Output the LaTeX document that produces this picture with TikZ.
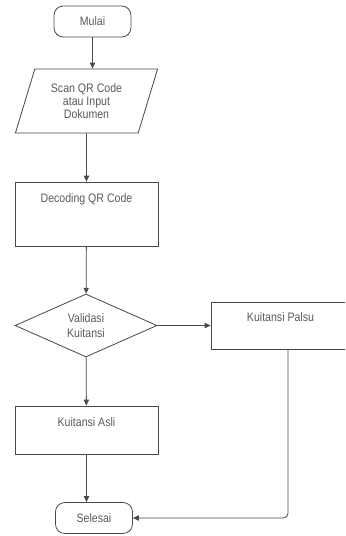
\documentclass[tikz,border=0pt]{standalone}
\usepackage{fontspec}
\setmainfont{Liberation Sans}[FakeStretch=0.86]
\usetikzlibrary{shapes.geometric,arrows.meta,positioning}
\definecolor{linegray}{HTML}{4A4A4A}
\definecolor{textgray}{HTML}{5A5A5A}
\tikzset{
  base/.style={draw=linegray,line width=0.7pt,text=textgray,font=\fontsize{10.5}{11}\selectfont,align=center},
  term/.style={base,rounded corners=8pt,minimum width=2.31cm,minimum height=0.93cm},
  io/.style={base,trapezium,trapezium stretches=true,trapezium left angle=72.6,trapezium right angle=107.4,minimum width=4.29cm,minimum height=1.92cm,inner xsep=0pt},
  proc/.style={base,rectangle,minimum width=4.29cm},
  dec/.style={base,diamond,minimum width=4.26cm,minimum height=1.89cm,aspect=2.25,inner sep=0pt},
  flow/.style={draw=linegray,line width=0.7pt,-{Triangle[length=5pt,width=4.5pt]}}
}
\begin{document}
\begin{tikzpicture}
\useasboundingbox (0,0) rectangle (10.35,-16.08);
\begin{scope}
\clip (0,0) rectangle (10.35,-16.08);
\node[term](mulai)at(2.775,-0.645){Mulai};
\node[io](scan)at(2.595,-3.03){Scan QR Code\\atau Input\\Dokumen};
\node[proc,minimum height=1.92cm,text depth=0.98cm](decode)at(2.595,-6.42){Decoding QR Code};
\node[dec,font=\fontsize{10.5}{12.5}\selectfont](valid)at(2.58,-9.765){Validasi\\Kuitansi};
\node[proc,minimum width=4.17cm,minimum height=1.41cm,text depth=0.48cm](palsu)at(8.415,-9.765){Kuitansi Palsu};
\node[proc,minimum height=1.44cm,text depth=0.5cm](asli)at(2.595,-12.9){Kuitansi Asli};
\node[term](selesai)at(2.82,-15.54){Selesai};
\coordinate(turn)at(8.64,-15.54);
\draw[flow](mulai)--(mulai|-scan.north);
\draw[flow](scan)--(decode);
\draw[flow](decode)--(valid);
\draw[flow](valid)--(palsu);
\draw[flow](valid)--(asli);
\draw[flow](asli)--(asli|-selesai.north);
\draw[flow,rounded corners=4pt](palsu.south-|turn)|-(selesai.east);
\end{scope}
\end{tikzpicture}
\end{document}
